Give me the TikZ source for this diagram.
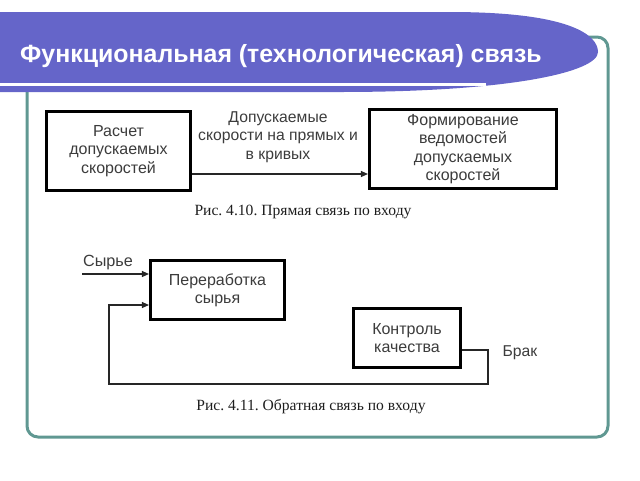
\documentclass[tikz,border=0pt]{standalone}
\usepackage{fontspec}
\usetikzlibrary{arrows.meta}
\newfontfamily\sansf{Liberation Sans}
\newfontfamily\seriff{Liberation Serif}
\frenchspacing
\definecolor{banner}{RGB}{101,101,201}
\definecolor{frame}{RGB}{96,152,146}
\definecolor{boxtext}{RGB}{60,60,60}
\definecolor{captext}{RGB}{30,30,30}
\tikzset{
  blockbox/.style={draw=black, line width=2.6pt, fill=white, inner sep=0pt,
    align=center, text=boxtext, font=\sansf\fontsize{16}{18.4}\selectfont},
  conn/.style={draw=black!85, line width=1.1pt},
  arr/.style={conn, -{Triangle[length=7pt,width=6pt]}},
  lbl/.style={align=center, text=boxtext, font=\sansf\fontsize{15.7}{18.5}\selectfont, inner sep=0pt},
  caption/.style={anchor=base, text=captext, font=\seriff\fontsize{15.6}{18}\selectfont, inner sep=0pt},
}
\begin{document}
\begin{tikzpicture}[x=1pt,y=-1pt]
\useasboundingbox (0,0) rectangle (640,480);
% frame
\draw[frame, line width=3pt, rounded corners=11pt] (27,37) rectangle (608,437);
% banner
\fill[banner] (0,12) -- (450,12) .. controls (570,12) and (598,35) .. (598,52)
  .. controls (598,72) and (510,92) .. (340,92) -- (0,92) -- cycle;
\draw[white, line width=2.6pt] (0,84.5) -- (486,84.5);
\node[anchor=base west, text=white, inner sep=0pt,
  font=\sansf\fontsize{24.9}{28}\selectfont\bfseries] (title) at (20,62)
  {Функциональная (технологическая) связь};
% top diagram
\node[blockbox, minimum width=144.5pt, minimum height=79.5pt] (calc) at (118.5,151)
  {Расчет\\допускаемых\\скоростей};
\node[blockbox, minimum width=187.5pt, minimum height=79.5pt] (form) at (463,149)
  {Формирование\\ведомостей\\допускаемых\\скоростей};
\coordinate (topy) at (0,174);
\draw[arr] (calc.east |- topy) -- (form.west |- topy);
\node[lbl] (speedlbl) at (278,137) {Допускаемые\\скорости на прямых и\\в кривых};
\node[caption] (cap1) at (303,215) {Рис. 4.10. Прямая связь по входу};
% bottom diagram
\node[blockbox, minimum width=134.5pt, minimum height=59.5pt] (proc) at (217.5,290)
  {Переработка\\сырья};
\node[blockbox, minimum width=107.5pt, minimum height=59.5pt] (ctrl) at (407,338)
  {Контроль\\качества};
\coordinate (rawin) at (82,274);
\node[lbl, anchor=base, font=\sansf\fontsize{16.2}{18.5}\selectfont] (rawlbl) at (108,266) {Сырье};
\draw[arr] (rawin) -- (proc.west |- rawin);
\coordinate (fbout) at (488,350);
\coordinate (fbcorner) at (488,384);
\coordinate (fbleft) at (109,384);
\coordinate (fbup) at (109,305);
\draw[arr] (ctrl.east |- fbout) -- (fbout) -- (fbcorner) -- (fbleft) -- (fbup) -- (proc.west |- fbup);
\node[lbl] (reject) at (520,353) {Брак};
\node[caption] (cap2) at (311,410) {Рис. 4.11. Обратная связь по входу};
\end{tikzpicture}
\end{document}
